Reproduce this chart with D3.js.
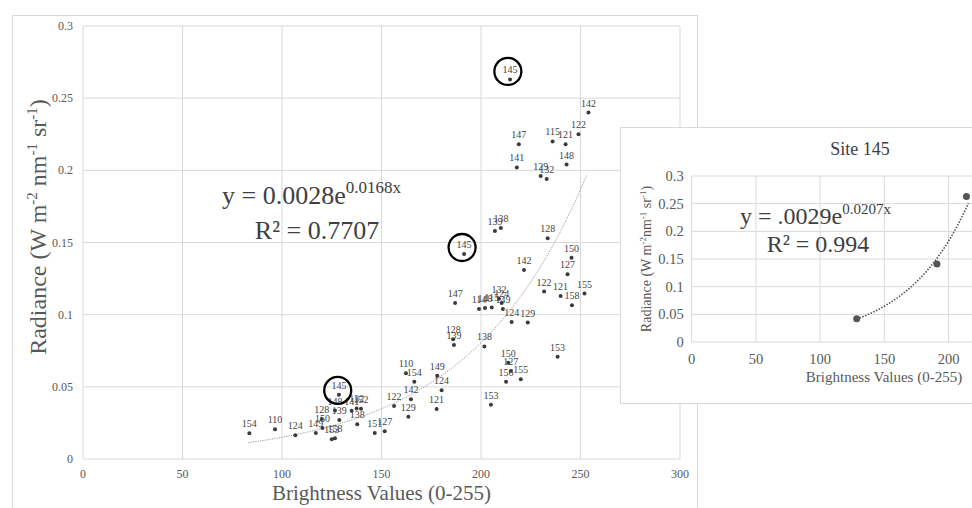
<!DOCTYPE html>
<html>
<head>
<meta charset="utf-8">
<script src="https://cdn.jsdelivr.net/npm/d3@7"></script>
<style>
  body { margin: 0; background: #fff; }
  svg { display: block; font-family: "Liberation Serif", "Times New Roman", serif; }
</style>
</head>
<body>
<div id="chart"></div>
<script>
// site labels, brightness values and radiance for the main scatter
const siteLabels = [154,110,124,149,150,128,153,158,148,139,145,141,132,152,138,151,127,122,129,142,
  110,154,149,124,121,128,139,147,145,138,114,148,115,132,124,149,124,129,153,150,
  127,156,155,153,142,122,121,158,155,150,127,128,139,138,145,147,141,115,121,148,
  129,132,122,142];
const brightness = [83.6,96.5,106.7,117,120.3,120,125,126.6,126.6,128.8,128.6,135,137.5,139.7,137.8,146.6,151.6,156.3,163.5,164.8,
  162.3,166.5,178,180.2,177.7,186,186.4,187,191.5,201.7,199,202,205.4,209,210.4,211,215.4,223.5,205,213.7,
  215,212.6,220,238.5,221.6,231.7,240,245.7,252,245.5,243.5,233.5,207,210,214.6,219,218,236,242.5,243,
  230,233,249,254];
const radiance = [0.0178,0.0206,0.0164,0.018,0.0215,0.0277,0.0136,0.0143,0.0336,0.027,0.0445,0.0335,0.035,0.0349,0.024,0.018,0.0192,0.0367,0.0293,0.0414,
  0.0594,0.0536,0.0577,0.0476,0.0347,0.083,0.079,0.108,0.142,0.078,0.104,0.1046,0.105,0.111,0.108,0.104,0.095,0.0945,0.0376,0.0667,
  0.061,0.0536,0.0552,0.0709,0.131,0.116,0.113,0.1065,0.1146,0.1395,0.128,0.153,0.158,0.160,0.263,0.218,0.202,0.220,0.218,0.204,
  0.196,0.194,0.225,0.240];

// site 145 on its own
const site145Brightness = [128.5, 191, 214];
const site145Radiance = [0.042, 0.141, 0.263];

const xTicks = [0, 50, 100, 150, 200, 250, 300];
const yTicks = [0, 0.05, 0.1, 0.15, 0.2, 0.25, 0.3];
const insetXTicks = [0, 50, 100, 150, 200, 250];

// trend fits as printed on the chart
const mainFit = { a: 0.0028, b: 0.0168, from: 83, to: 253.5 };
const insetFit = { a: 0.0029, b: 0.0207, from: 128.5, to: 216 };

const width = 972, height = 508;
const grid = "#d9d9d9", tickColor = "#595959";

const svg = d3.select("#chart").append("svg")
    .attr("width", width)
    .attr("height", height);

svg.append("rect").attr("width", width).attr("height", height).attr("fill", "#fff");

// outer chart frame
svg.append("rect")
    .attr("x", 12.5).attr("y", 15.5)
    .attr("width", 685).attr("height", 520)
    .attr("fill", "#fff").attr("stroke", grid);

const x = d3.scaleLinear().domain([0, 300]).range([83, 680]);
const y = d3.scaleLinear().domain([0, 0.3]).range([459, 26]);

const main = svg.append("g");

main.append("g").selectAll("line")
    .data(xTicks)
    .join("line")
    .attr("x1", d => x(d)).attr("x2", d => x(d))
    .attr("y1", y(0)).attr("y2", y(0.3))
    .attr("stroke", grid);

main.append("g").selectAll("line")
    .data(yTicks)
    .join("line")
    .attr("x1", x(0)).attr("x2", x(300))
    .attr("y1", d => y(d)).attr("y2", d => y(d))
    .attr("stroke", grid);

main.append("g").selectAll("text")
    .data(xTicks)
    .join("text")
    .attr("x", d => x(d)).attr("y", y(0) + 19)
    .attr("text-anchor", "middle")
    .attr("font-size", 12)
    .attr("fill", tickColor)
    .text(d => d);

main.append("g").selectAll("text")
    .data(yTicks)
    .join("text")
    .attr("x", x(0) - 10).attr("y", d => y(d) + 4)
    .attr("text-anchor", "end")
    .attr("font-size", 12)
    .attr("fill", tickColor)
    .text(d => d);

// trend line
const mainCurve = d3.range(mainFit.from, mainFit.to + 0.5, 1).map(v => [v, mainFit.a * Math.exp(mainFit.b * v)]);
main.append("path")
    .datum(mainCurve)
    .attr("fill", "none")
    .attr("stroke", "#9a9a9a")
    .attr("stroke-width", 1)
    .attr("stroke-dasharray", "1.2,1.2")
    .attr("d", d3.line().x(d => x(d[0])).y(d => y(d[1])));

const pts = brightness.map((b, i) => ({ b, r: radiance[i], label: siteLabels[i] }));

main.append("g").selectAll("circle")
    .data(pts)
    .join("circle")
    .attr("cx", d => x(d.b)).attr("cy", d => y(d.r))
    .attr("r", 2)
    .attr("fill", "#3a3a3a");

main.append("g").selectAll("text")
    .data(pts)
    .join("text")
    .attr("x", d => x(d.b)).attr("y", d => y(d.r) - 6)
    .attr("text-anchor", "middle")
    .attr("font-size", 10)
    .attr("fill", "#444")
    .text(d => d.label);

// rings around site 145
main.append("g").selectAll("circle")
    .data(site145Brightness.map((b, i) => [b, site145Radiance[i]]))
    .join("circle")
    .attr("cx", d => x(d[0]) - 1).attr("cy", d => y(d[1]) - 8)
    .attr("r", 13.5)
    .attr("fill", "none")
    .attr("stroke", "#000")
    .attr("stroke-width", 2.3);

// equation
const eq = main.append("text")
    .attr("x", 222).attr("y", 204)
    .attr("font-size", 26)
    .attr("fill", "#404040");
eq.append("tspan").text("y = 0.0028e");
eq.append("tspan").attr("font-size", 17).attr("dy", -11).text("0.0168x");
main.append("text")
    .attr("x", 317).attr("y", 239)
    .attr("text-anchor", "middle")
    .attr("font-size", 26)
    .attr("fill", "#404040")
    .text("R² = 0.7707");

// axis titles
main.append("text")
    .attr("x", x(150)).attr("y", 500)
    .attr("text-anchor", "middle")
    .attr("font-size", 21)
    .attr("fill", tickColor)
    .text("Brightness Values (0-255)");

const yt = main.append("text")
    .attr("transform", "translate(46,227) rotate(-90)")
    .attr("text-anchor", "middle")
    .attr("font-size", 24)
    .attr("fill", tickColor);
yt.append("tspan").text("Radiance (W m");
yt.append("tspan").attr("font-size", 15).attr("dy", -9).text("-2");
yt.append("tspan").attr("dy", 9).text(" nm");
yt.append("tspan").attr("font-size", 15).attr("dy", -9).text("-1");
yt.append("tspan").attr("dy", 9).text(" sr");
yt.append("tspan").attr("font-size", 15).attr("dy", -9).text("-1");
yt.append("tspan").attr("dy", 9).text(")");

// ---- inset: site 145 ----
const inset = svg.append("g");
inset.append("rect")
    .attr("x", 620.5).attr("y", 127.5)
    .attr("width", 400).attr("height", 276)
    .attr("fill", "#fff").attr("stroke", grid);

const xi = d3.scaleLinear().domain([0, 250]).range([691.7, 1012.7]);
const yi = d3.scaleLinear().domain([0, 0.3]).range([342, 176]);

inset.append("g").selectAll("line")
    .data(insetXTicks)
    .join("line")
    .attr("x1", d => xi(d)).attr("x2", d => xi(d))
    .attr("y1", yi(0)).attr("y2", yi(0.3))
    .attr("stroke", grid);

inset.append("g").selectAll("line")
    .data(yTicks)
    .join("line")
    .attr("x1", xi(0)).attr("x2", xi(250))
    .attr("y1", d => yi(d)).attr("y2", d => yi(d))
    .attr("stroke", grid);

// the 250 label falls outside the picture
inset.append("g").selectAll("text")
    .data(insetXTicks.filter(d => xi(d) < width - 10))
    .join("text")
    .attr("x", d => xi(d)).attr("y", yi(0) + 22)
    .attr("text-anchor", "middle")
    .attr("font-size", 14.5)
    .attr("fill", tickColor)
    .text(d => d);

inset.append("g").selectAll("text")
    .data(yTicks)
    .join("text")
    .attr("x", xi(0) - 8).attr("y", d => yi(d) + 5)
    .attr("text-anchor", "end")
    .attr("font-size", 14.5)
    .attr("fill", tickColor)
    .text(d => d);

const insetCurve = d3.range(insetFit.from, insetFit.to + 0.5, 1).map(v => [v, insetFit.a * Math.exp(insetFit.b * v)]);
inset.append("path")
    .datum(insetCurve)
    .attr("fill", "none")
    .attr("stroke", "#555")
    .attr("stroke-width", 1.6)
    .attr("stroke-dasharray", "1.5,1.5")
    .attr("d", d3.line().x(d => xi(d[0])).y(d => yi(d[1])));

inset.append("g").selectAll("circle")
    .data(site145Brightness.map((b, i) => [b, site145Radiance[i]]))
    .join("circle")
    .attr("cx", d => xi(d[0])).attr("cy", d => yi(d[1]))
    .attr("r", 3.5)
    .attr("fill", "#555");

inset.append("text")
    .attr("x", 860).attr("y", 155)
    .attr("text-anchor", "middle")
    .attr("font-size", 18)
    .attr("fill", "#404040")
    .text("Site 145");

const eq2 = inset.append("text")
    .attr("x", 740).attr("y", 224)
    .attr("font-size", 24)
    .attr("fill", "#404040");
eq2.append("tspan").text("y = .0029e");
eq2.append("tspan").attr("font-size", 15).attr("dy", -10).text("0.0207x");
inset.append("text")
    .attr("x", 818).attr("y", 252)
    .attr("text-anchor", "middle")
    .attr("font-size", 24)
    .attr("fill", "#404040")
    .text("R² = 0.994");

inset.append("text")
    .attr("x", 884).attr("y", 382)
    .attr("text-anchor", "middle")
    .attr("font-size", 15)
    .attr("fill", tickColor)
    .text("Brightness Values (0-255)");

const yt2 = inset.append("text")
    .attr("transform", `translate(651,${(yi(0) + yi(0.3)) / 2}) rotate(-90)`)
    .attr("text-anchor", "middle")
    .attr("font-size", 14)
    .attr("fill", tickColor);
yt2.append("tspan").text("Radiance (W m");
yt2.append("tspan").attr("font-size", 9).attr("dy", -5).text("-2");
yt2.append("tspan").attr("dy", 5).text("nm");
yt2.append("tspan").attr("font-size", 9).attr("dy", -5).text("-1");
yt2.append("tspan").attr("dy", 5).text(" sr");
yt2.append("tspan").attr("font-size", 9).attr("dy", -5).text("-1");
yt2.append("tspan").attr("dy", 5).text(")");
</script>
</body>
</html>
